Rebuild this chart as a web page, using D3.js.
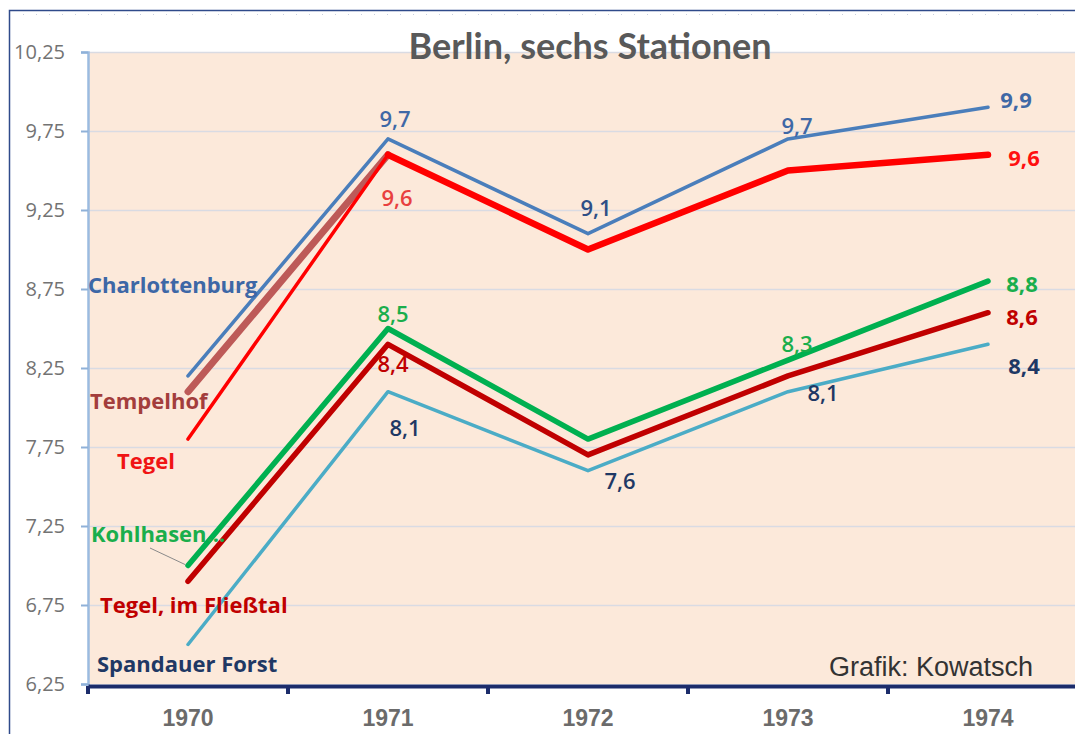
<!DOCTYPE html>
<html>
<head>
<meta charset="utf-8">
<script src="https://cdn.jsdelivr.net/npm/d3@7"></script>
<style>
  body { margin: 0; background: #fff; }
  svg { display: block; font-family: "Open Sans", Lato, sans-serif; }
</style>
</head>
<body>
<div class="app"></div>
<script>
// values
var years = ["1970", "1971", "1972", "1973", "1974"];
var charlottenburg = [8.2, 9.7, 9.1, 9.7, 9.9];
var tempelhof = [8.1, 9.6, 9.0, 9.5, 9.6];
var tegel = [7.8, 9.6, 9.0, 9.5, 9.6];
var kohlhasen = [7.0, 8.5, 7.8, 8.3, 8.8];
var fliesstal = [6.9, 8.4, 7.7, 8.2, 8.6];
var spandau = [6.5, 8.1, 7.6, 8.1, 8.4];
var yTicks = [6.25, 6.75, 7.25, 7.75, 8.25, 8.75, 9.25, 9.75, 10.25];
var stationNames = ["Charlottenburg", "Tempelhof", "Tegel", "Kohlhasen...", "Tegel, im Fließtal", "Spandauer Forst"];

var width = 1075, height = 734;
var plotLeft = 88, plotTop = 52, plotBottom = 684;

var svg = d3.select(".app").append("svg").attr("width", width).attr("height", height);

var x = d3.scaleBand().domain(years).range([plotLeft, plotLeft + 1000]);
var y = d3.scaleLinear().domain([6.25, 10.25]).range([plotBottom, plotTop]);
var fmt = function (v) { return String(v).replace(".", ","); };
var cx = function (i) { return x(years[i]) + x.bandwidth() / 2; };

// outer frame
svg.append("rect").attr("x", 9.5).attr("y", 10.5).attr("width", 1200).attr("height", 800)
    .attr("fill", "none").attr("stroke", "#2f4a8a").attr("stroke-width", 1.5);
svg.append("line").attr("x1", 10).attr("x2", width).attr("y1", 14.5).attr("y2", 14.5)
    .attr("stroke", "#c8cfe0").attr("stroke-dasharray", "1,12");

// plot area
svg.append("rect").attr("x", plotLeft).attr("y", plotTop).attr("width", 1000).attr("height", plotBottom - plotTop)
    .attr("fill", "#fce9da");

svg.append("g").selectAll("line").data(yTicks.slice(1)).enter().append("line")
    .attr("x1", plotLeft).attr("x2", plotLeft + 1000)
    .attr("y1", function (d) { return Math.round(y(d)) + 0.5; })
    .attr("y2", function (d) { return Math.round(y(d)) + 0.5; })
    .attr("stroke", "#d9dbe3").attr("stroke-width", 1.5);

// y axis
var yAxis = svg.append("g").attr("transform", "translate(" + plotLeft + ",0)")
    .call(d3.axisLeft(y).tickValues(yTicks).tickSize(7).tickPadding(16).tickFormat(function (d) { return d.toFixed(2).replace(".", ","); }));
yAxis.select(".domain").attr("stroke", "#9bbbe0").attr("stroke-width", 2.5);
yAxis.selectAll(".tick line").attr("stroke", "#8fb1d8").attr("stroke-width", 2);
yAxis.selectAll("text").attr("fill", "#737373").attr("font-size", 20).attr("font-family", "'Open Sans', sans-serif");

// x axis
var xAxis = svg.append("g").attr("transform", "translate(0," + (plotBottom + 2) + ")")
    .call(d3.axisBottom(x).tickSize(0).tickPadding(24));
xAxis.select(".domain").attr("stroke", "#1c2c6b").attr("stroke-width", 4);
xAxis.selectAll("text").attr("fill", "#6b6b6b").attr("font-size", 23).attr("font-weight", "bold")
    .attr("font-family", "'Liberation Sans', Arial, sans-serif");
svg.append("g").selectAll("line").data(years).enter().append("line")
    .attr("x1", function (d) { return x(d); }).attr("x2", function (d) { return x(d); })
    .attr("y1", plotBottom + 2).attr("y2", plotBottom + 10)
    .attr("stroke", "#1c2c6b").attr("stroke-width", 4);

// title
svg.append("text").attr("x", 590).attr("y", 59).attr("text-anchor", "middle")
    .attr("font-family", "Lato, sans-serif")
    .attr("font-size", 36).attr("font-weight", "bold").attr("fill", "#595959")
    .text("Berlin, sechs Stationen");

svg.append("text").attr("x", 1033).attr("y", 676).attr("text-anchor", "end")
    .attr("font-family", "'Liberation Sans', Arial, sans-serif").attr("font-size", 27).attr("fill", "#333")
    .text("Grafik: Kowatsch");

var line = d3.line().x(function (d, i) { return cx(i); }).y(function (d) { return y(d); });

function drawLine(values, color, w) {
    svg.append("path").datum(values).attr("d", line).attr("fill", "none")
        .attr("stroke", color).attr("stroke-width", w).attr("stroke-linejoin", "round").attr("stroke-linecap", "round");
}

drawLine(charlottenburg, "#4a7ebb", 3.5);
// Tempelhof: first segment brownish, rest red
svg.append("path").datum(tempelhof.slice(0, 2)).attr("d", line).attr("fill", "none")
    .attr("stroke", "#bd5a58").attr("stroke-width", 7).attr("stroke-linecap", "round");
svg.append("path").datum(tempelhof).attr("d", d3.line().defined(function (d, i) { return i > 0; })
        .x(function (d, i) { return cx(i); }).y(function (d) { return y(d); }))
    .attr("fill", "none").attr("stroke", "#ff0000").attr("stroke-width", 6.5)
    .attr("stroke-linejoin", "round").attr("stroke-linecap", "round");
drawLine(tegel, "#ff0000", 3.5);
drawLine(kohlhasen, "#00b050", 5.5);
drawLine(fliesstal, "#c00000", 5.5);
drawLine(spandau, "#4bacc6", 3.5);

// data labels
function labels(values, items) {
    items.forEach(function (it) {
        svg.append("text").attr("x", cx(it.i) + it.dx).attr("y", y(values[it.i]) + it.dy)
            .attr("text-anchor", "middle").attr("dominant-baseline", "central")
            .attr("font-size", 22).attr("font-weight", it.bold ? "bold" : 600)
            .attr("fill", it.color).text(fmt(values[it.i]));
    });
}
labels(charlottenburg, [
    {i: 1, dx: 7, dy: -21, color: "#3f68a6"},
    {i: 2, dx: 8, dy: -27, color: "#2f4f86"},
    {i: 3, dx: 9, dy: -14, color: "#3f68a6"},
    {i: 4, dx: 28, dy: -8, color: "#3f68a6", bold: true}
]);
labels(tegel, [
    {i: 1, dx: 9, dy: 42, color: "#e8403f"},
    {i: 4, dx: 36, dy: 2, color: "#ff1010", bold: true}
]);
labels(kohlhasen, [
    {i: 1, dx: 5, dy: -16, color: "#1aae4c"},
    {i: 3, dx: 9, dy: -17, color: "#1aae4c"},
    {i: 4, dx: 34, dy: 2, color: "#1aae4c", bold: true}
]);
labels(fliesstal, [
    {i: 1, dx: 5, dy: 19, color: "#c00000"},
    {i: 4, dx: 34, dy: 3, color: "#c00000", bold: true}
]);
labels(spandau, [
    {i: 1, dx: 17, dy: 35, color: "#1f3864"},
    {i: 2, dx: 32, dy: 9, color: "#1f3864"},
    {i: 3, dx: 35, dy: 0, color: "#1f3864"},
    {i: 4, dx: 36, dy: 21, color: "#1f3864", bold: true}
]);

// station names at the left
var nameColors = ["#3d67a6", "#a33d3c", "#f01414", "#1aae4c", "#c00000", "#1f3864"];
var nameX = [88, 90, 117, 91, 100, 97];
var nameY = [284, 400, 460, 533, 604, 663];
stationNames.forEach(function (n, k) {
    svg.append("text").attr("x", nameX[k]).attr("y", nameY[k]).attr("dominant-baseline", "central")
        .attr("font-size", 22).attr("font-weight", "bold").attr("fill", nameColors[k]).text(n);
});
svg.append("line").attr("x1", 150).attr("y1", 548).attr("x2", cx(0) - 3).attr("y2", y(kohlhasen[0]) - 1)
    .attr("stroke", "#8a8a8a").attr("stroke-width", 1);
</script>
</body>
</html>
